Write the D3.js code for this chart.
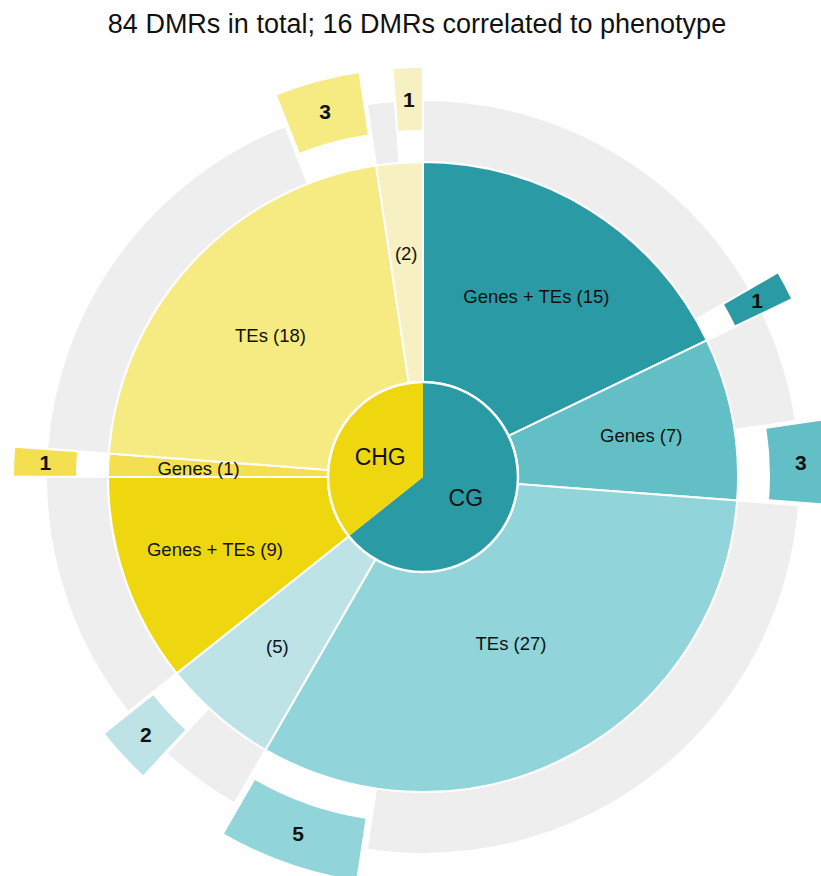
<!DOCTYPE html>
<html><head><meta charset="utf-8">
<script src="https://cdn.jsdelivr.net/npm/d3@7"></script>
<style>body{margin:0;background:#fff;} text{font-family:"Liberation Sans",Arial,Helvetica,sans-serif;fill:#111;}</style>
</head><body><svg id="chart" width="821" height="876"></svg>
<script>
// ---- data ----
const title = "84 DMRs in total; 16 DMRs correlated to phenotype";
const contexts = ["CG", "CHG"];
const categories = ["Genes + TEs", "Genes", "TEs", ""];
const cgCounts = [15, 7, 27, 5];
const chgCounts = [9, 1, 18, 2];
const cgCorrelated = [1, 3, 5, 2];
const chgCorrelated = [0, 1, 3, 1];
const contextColors = ["#2a9ba4", "#eed70f"];
const cgColors = ["#2a9ba4", "#62bfc6", "#91d4d9", "#bde3e6"];
const chgColors = ["#eed70f", "#f3df4f", "#f6ea82", "#f7f0c2"];
const greyColor = "#eeeeee";

// ---- layout ----
const W = 821, H = 876, cx = 423, cy = 477;
const rInner = 95, rMid = 315, rOuter = 377, explode = 32;

const svg = d3.select("#chart");
svg.append("text").attr("x", 417).attr("y", 33).attr("text-anchor", "middle")
  .style("font-size", "27px").text(title);

const counts = [cgCounts, chgCounts];
const corr = [cgCorrelated, chgCorrelated];
const cols = [cgColors, chgColors];
const segments = [];
contexts.forEach((ctx, i) => counts[i].forEach((v, j) => segments.push({
  ctx, cat: categories[j], value: v, corr: corr[i][j], color: cols[i][j]
})));
const total = d3.sum(segments, d => d.value);
const angle = d3.scaleLinear().domain([0, total]).range([0, 2 * Math.PI]);
let acc = 0;
segments.forEach(s => {
  s.start = angle(acc);
  s.split = angle(acc + s.value - s.corr);
  acc += s.value;
  s.end = angle(acc);
});
let acc2 = 0;
const innerSegs = contexts.map((c, i) => {
  const v = d3.sum(counts[i]);
  const s = { ctx: c, value: v, color: contextColors[i], start: angle(acc2) };
  acc2 += v; s.end = angle(acc2);
  return s;
});

const g = svg.append("g").attr("transform", `translate(${cx},${cy})`);

// grey outer ring (non-correlated part)
const greyArc = d3.arc().innerRadius(rMid).outerRadius(rOuter)
  .startAngle(d => d.start).endAngle(d => d.split);
g.selectAll("path.grey").data(segments.filter(d => d.value - d.corr > 0)).join("path")
  .attr("class", "grey").attr("d", greyArc).attr("fill", greyColor)
  .attr("stroke", "#fff").attr("stroke-width", 2);

// correlated blocks, exploded outward
const blockArc = d3.arc().innerRadius(rMid).outerRadius(rOuter)
  .startAngle(d => d.split).endAngle(d => d.end);
const blocks = segments.filter(d => d.corr > 0);
const off = d => { const m = (d.split + d.end) / 2; return [Math.sin(m) * explode, -Math.cos(m) * explode]; };
const bg = g.selectAll("g.block").data(blocks).join("g").attr("class", "block")
  .attr("transform", d => `translate(${off(d)[0]},${off(d)[1]})`);
bg.append("path").attr("d", blockArc).attr("fill", d => d.color);
bg.append("text").attr("transform", d => `translate(${blockArc.centroid(d)})`)
  .attr("text-anchor", "middle").attr("dy", "0.36em")
  .style("font-size", "21px").style("font-weight", "bold").text(d => d.corr);

// middle ring
const midArc = d3.arc().innerRadius(rInner).outerRadius(rMid)
  .startAngle(d => d.start).endAngle(d => d.end);
g.selectAll("path.mid").data(segments).join("path")
  .attr("class", "mid").attr("d", midArc).attr("fill", d => d.color)
  .attr("stroke", "#fff").attr("stroke-width", 2);
const labelPos = d => {
  const a = (d.end - d.start) / 2, m = (d.start + d.end) / 2;
  const rc = (2 / 3) * (Math.pow(rMid, 3) - Math.pow(rInner, 3)) / (rMid * rMid - rInner * rInner) * Math.sin(a) / a;
  return [Math.sin(m) * rc, -Math.cos(m) * rc];
};
g.selectAll("text.mid").data(segments).join("text")
  .attr("class", "mid").attr("transform", d => `translate(${labelPos(d)})`)
  .attr("text-anchor", "middle").attr("dy", "0.36em").style("font-size", "18.5px")
  .text(d => (d.cat ? d.cat + " " : "") + "(" + d.value + ")");

// inner pie
const innerArc = d3.arc().innerRadius(0).outerRadius(rInner)
  .startAngle(d => d.start).endAngle(d => d.end);
g.selectAll("path.inner").data(innerSegs).join("path")
  .attr("class", "inner").attr("d", innerArc).attr("fill", d => d.color);
g.append("circle").attr("r", rInner).attr("fill", "none").attr("stroke", "#fff").attr("stroke-width", 2.5);
g.selectAll("text.inner").data(innerSegs).join("text")
  .attr("class", "inner").attr("transform", d => `translate(${innerArc.centroid(d)})`)
  .attr("text-anchor", "middle").attr("dy", "0.36em").style("font-size", "23px")
  .text(d => d.ctx);
</script></body></html>
